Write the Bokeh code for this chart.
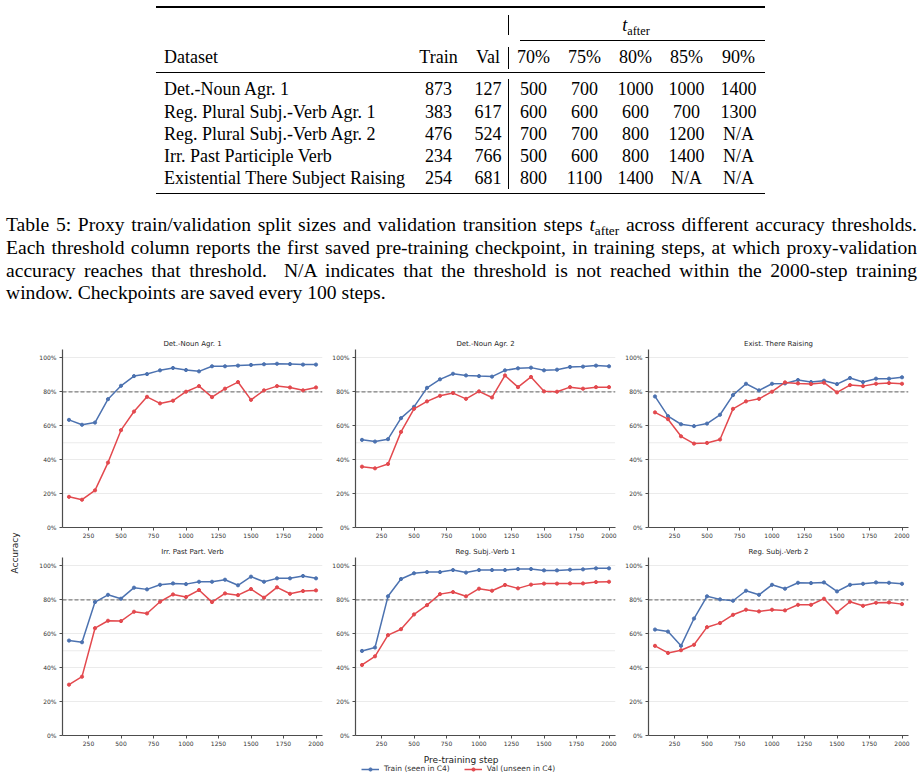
from bokeh.plotting import figure
from bokeh.layouts import column, row
from bokeh.models import (Div, Span, FixedTicker, Range1d, Legend, LegendItem,
                          Label, PrintfTickFormatter)
from bokeh.embed import file_html
from bokeh.resources import INLINE

# ---------------- table data ----------------
THRESHOLDS = ["70%", "75%", "80%", "85%", "90%"]
DATASETS = ["Det.-Noun Agr. 1", "Reg. Plural Subj.-Verb Agr. 1", "Reg. Plural Subj.-Verb Agr. 2",
            "Irr. Past Participle Verb", "Existential There Subject Raising"]
TRAIN_SIZES = [873, 383, 476, 234, 254]
VAL_SIZES = [127, 617, 524, 766, 681]
T_AFTER = [
    ["500", "700", "1000", "1000", "1400"],
    ["600", "600", "600", "700", "1300"],
    ["700", "700", "800", "1200", "N/A"],
    ["500", "600", "800", "1400", "N/A"],
    ["800", "1100", "1400", "N/A", "N/A"],
]
TAFTER_HTML = '<i>t</i><span style="font-size:0.68em;position:relative;top:0.3em;">after</span>'
CAPTION_LINES = [
    "Table 5: Proxy train/validation split sizes and validation transition steps " + TAFTER_HTML + " across different accuracy thresholds.",
    "Each threshold column reports the first saved pre-training checkpoint, in training steps, at which proxy-validation",
    "accuracy reaches that threshold.&nbsp; N/A indicates that the threshold is not reached within the 2000-step training",
    "window. Checkpoints are saved every 100 steps.",
]

# ---------------- chart data (accuracy, %) ----------------
STEPS = [100, 200, 300, 400, 500, 600, 700, 800, 900, 1000,
         1100, 1200, 1300, 1400, 1500, 1600, 1700, 1800, 1900, 2000]
PANEL_TITLES = ["Det.-Noun Agr. 1", "Det.-Noun Agr. 2", "Exist. There Raising",
                "Irr. Past Part. Verb", "Reg. Subj.-Verb 1", "Reg. Subj.-Verb 2"]

det_noun_1_train = [63.5, 60.6, 61.9, 75.7, 83.6, 89.3, 90.5, 92.7, 94.1, 92.9,
                    92.1, 95.1, 95.1, 95.5, 95.9, 96.3, 96.6, 96.4, 96.1, 96.1]
det_noun_1_val = [18.1, 16.4, 21.9, 38.3, 57.4, 68.4, 77.1, 73.2, 74.8, 80.1,
                  83.4, 76.9, 81.9, 85.8, 75.3, 80.9, 83.4, 82.6, 80.9, 82.6]
det_noun_2_train = [51.7, 50.7, 52.1, 64.5, 71.2, 82.4, 87.4, 90.7, 89.7, 89.3,
                    89.0, 92.7, 93.9, 94.3, 92.7, 93.1, 94.7, 94.9, 95.5, 95.1]
det_noun_2_val = [35.9, 34.9, 37.5, 56.4, 70.0, 74.4, 77.7, 79.3, 75.9, 80.3,
                  76.7, 89.7, 82.8, 88.8, 80.3, 80.1, 82.8, 81.9, 82.8, 82.8]
exist_there_train = [77.3, 65.7, 60.9, 59.8, 61.3, 66.5, 78.1, 84.8, 80.9, 84.8,
                     85.0, 87.0, 85.8, 86.6, 84.6, 88.2, 85.8, 87.8, 87.8, 88.6]
exist_there_val = [67.9, 63.9, 53.8, 49.5, 49.9, 51.9, 70.0, 74.4, 75.9, 80.1,
                   85.6, 85.0, 84.6, 85.4, 79.7, 84.0, 83.4, 84.8, 85.2, 84.8]
irr_past_train = [56.0, 55.0, 78.7, 83.0, 80.7, 87.2, 86.2, 88.9, 89.7, 89.3,
                  90.7, 90.7, 91.9, 88.6, 93.7, 90.7, 92.7, 92.7, 94.1, 92.7]
irr_past_val = [30.0, 34.7, 63.3, 67.7, 67.5, 73.0, 72.0, 78.9, 83.2, 81.7,
                85.8, 78.7, 83.8, 82.8, 86.4, 81.3, 87.4, 83.6, 85.2, 85.6]
reg_sv_1_train = [49.9, 51.9, 82.1, 92.3, 95.7, 96.4, 96.4, 97.6, 96.1, 97.6,
                  97.6, 97.6, 98.2, 98.2, 97.4, 97.4, 97.8, 98.0, 98.6, 98.6]
reg_sv_1_val = [41.6, 46.7, 59.2, 62.7, 71.4, 76.9, 83.4, 84.6, 82.1, 86.6,
                85.4, 88.8, 86.8, 89.0, 89.6, 89.6, 89.7, 89.7, 90.5, 90.7]
reg_sv_2_train = [62.5, 61.3, 52.9, 69.0, 82.1, 80.3, 79.5, 85.4, 83.0, 88.9,
                  86.6, 90.1, 89.9, 90.3, 85.0, 88.9, 89.5, 90.3, 90.1, 89.5]
reg_sv_2_val = [52.9, 48.7, 50.3, 53.5, 63.9, 66.3, 71.2, 74.2, 73.2, 74.2,
                73.8, 77.1, 77.1, 80.7, 72.6, 78.9, 76.5, 78.3, 78.5, 77.5]

TRAIN_SERIES = [det_noun_1_train, det_noun_2_train, exist_there_train,
                irr_past_train, reg_sv_1_train, reg_sv_2_train]
VAL_SERIES = [det_noun_1_val, det_noun_2_val, exist_there_val,
              irr_past_val, reg_sv_1_val, reg_sv_2_val]
X_TICKS = [250, 500, 750, 1000, 1250, 1500, 1750, 2000]
Y_TICKS = [0, 20, 40, 60, 80, 100]
THRESHOLD_LINE = 80
CHANCE_LINE = 50
TRAIN_LABEL = "Train (seen in C4)"
VAL_LABEL = "Val (unseen in C4)"

BLUE = "#4C72B0"
RED = "#E3494E"
SANS = "DejaVu Sans"
SERIF = "'Liberation Serif', 'Times New Roman', serif"

# ---------------- table (HTML) ----------------
def txt(html, cy, size, cx=None, left=None, lh=24):
    top = cy - lh / 2
    if cx is not None:
        pos = f"left:{cx - 80}px;width:160px;text-align:center;"
    else:
        pos = f"left:{left}px;text-align:left;"
    return (f'<div style="position:absolute;{pos}top:{top}px;height:{lh}px;'
            f'line-height:{lh}px;font-size:{size}px;white-space:nowrap;">{html}</div>')

def hrule(y, x0, x1, th):
    return (f'<div style="position:absolute;left:{x0}px;top:{y - th / 2}px;'
            f'width:{x1 - x0}px;height:{th}px;background:#000;"></div>')

def vrule(x, y0, y1, th=0.9):
    return (f'<div style="position:absolute;left:{x - th / 2}px;top:{y0}px;'
            f'width:{th}px;height:{y1 - y0}px;background:#000;"></div>')

TS = 18
TL, TR = 156, 765
X_DATASET = 164
X_TRAIN, X_VAL = 438.5, 488
X_BAR = 508.5
X_THR = [533.5, 584.5, 635.5, 686.5, 738.5]
ROW0, ROW_STEP = 89.3, 22.2

parts = []
parts.append(hrule(7, TL, TR, 1.6))
parts.append(txt(TAFTER_HTML, 25, TS, cx=636))
parts.append(hrule(40.5, 520, TR, 0.8))
parts.append(txt("Dataset", 57, TS, left=X_DATASET))
parts.append(txt("Train", 57, TS, cx=X_TRAIN))
parts.append(txt("Val", 57, TS, cx=X_VAL))
for cx, th in zip(X_THR, THRESHOLDS):
    parts.append(txt(th, 57, TS, cx=cx))
parts.append(hrule(72.5, TL, TR, 1.0))
for i, name in enumerate(DATASETS):
    cy = ROW0 + ROW_STEP * i
    parts.append(txt(name, cy, TS, left=X_DATASET))
    parts.append(txt(str(TRAIN_SIZES[i]), cy, TS, cx=X_TRAIN))
    parts.append(txt(str(VAL_SIZES[i]), cy, TS, cx=X_VAL))
    for cx, v in zip(X_THR, T_AFTER[i]):
        parts.append(txt(v, cy, TS, cx=cx))
parts.append(hrule(193.5, TL, TR, 1.6))
parts.append(vrule(X_BAR, 15, 35))
parts.append(vrule(X_BAR, 46.5, 68.5))
parts.append(vrule(X_BAR, 79, 188.5))

table_html = (f'<div style="position:relative;width:923px;height:200px;font-family:{SERIF};'
              f'color:#000;">' + "".join(parts) + "</div>")
table_div = Div(text=table_html, width=923, height=200, margin=0)

# ---------------- caption ----------------
CAP_SIZE = 19.6
CAP_LH = 22.7
CAP_TOP = 225.5 - 200
cap_parts = []
for i, line in enumerate(CAPTION_LINES):
    last = i == len(CAPTION_LINES) - 1
    align = "text-align:left;" if last else "text-align:justify;text-align-last:justify;"
    top = CAP_TOP + CAP_LH * i - CAP_LH / 2
    cap_parts.append(f'<div style="position:absolute;left:6px;width:911px;top:{top}px;'
                     f'height:{CAP_LH}px;line-height:{CAP_LH}px;{align}">{line}</div>')
caption_html = (f'<div style="position:relative;width:923px;height:120px;font-family:{SERIF};'
                f'font-size:{CAP_SIZE}px;color:#000;">' + "".join(cap_parts) + "</div>")
caption_div = Div(text=caption_html, width=923, height=120, margin=0)

# ---------------- panels ----------------
def make_panel(title, train, val, top_border):
    p = figure(frame_width=260, frame_height=178,
               x_range=Range1d(50, 2050), y_range=Range1d(0, 105),
               output_backend="svg", toolbar_location=None,
               min_border_left=30, min_border_right=3,
               min_border_top=top_border, min_border_bottom=14,
               title=title)
    p.outline_line_color = None
    p.background_fill_color = "white"
    p.border_fill_color = "white"
    p.title.align = "center"
    p.title.text_font = SANS
    p.title.text_font_size = "7px"
    p.title.text_font_style = "normal"
    p.title.text_color = "#262626"
    p.title.standoff = 3
    p.xgrid.grid_line_color = None
    p.ygrid.ticker = FixedTicker(ticks=Y_TICKS)
    p.ygrid.grid_line_color = "#e6e6e6"
    p.ygrid.grid_line_width = 0.8
    for ax in (p.xaxis[0], p.yaxis[0]):
        ax.axis_line_color = "#4d4d4d"
        ax.axis_line_width = 1.2
        ax.major_tick_line_color = "#4d4d4d"
        ax.major_tick_in = 0
        ax.major_tick_out = 3
        ax.minor_tick_line_color = None
        ax.major_label_text_font = SANS
        ax.major_label_text_font_size = "6px"
        ax.major_label_text_color = "#333333"
    p.xaxis.ticker = FixedTicker(ticks=X_TICKS)
    p.xaxis.major_label_standoff = 2
    p.yaxis.ticker = FixedTicker(ticks=Y_TICKS)
    p.yaxis.formatter = PrintfTickFormatter(format="%d%%")
    p.yaxis.major_label_standoff = 3
    p.add_layout(Span(location=CHANCE_LINE, dimension="width", line_color="#c8c8c8",
                      line_width=0.7, line_dash="1 1", level="underlay"))
    p.add_layout(Span(location=THRESHOLD_LINE, dimension="width", line_color="#808080",
                      line_width=1.2, line_dash="4 2", level="underlay"))
    p.line(STEPS, train, color=BLUE, line_width=1.5)
    p.scatter(STEPS, train, color=BLUE, size=3.2)
    p.line(STEPS, val, color=RED, line_width=1.5)
    p.scatter(STEPS, val, color=RED, size=3.2)
    return p

panels = []
for i in range(6):
    tb = 29 if i < 3 else 16
    panels.append(make_panel(PANEL_TITLES[i], TRAIN_SERIES[i], VAL_SERIES[i], tb))

grid = column(row(*panels[:3], spacing=0), row(*panels[3:], spacing=0), spacing=0)

acc_html = (f'<div style="position:relative;width:32px;height:429px;">'
            f'<div style="position:absolute;left:15px;top:233px;transform:translate(-50%,-50%) rotate(-90deg);'
            f'font-family:{SANS};font-size:9px;color:#222;white-space:nowrap;">Accuracy</div></div>')
acc_div = Div(text=acc_html, width=32, height=429, margin=0)

# ---------------- bottom: x label + legend ----------------
# The bottom strip only hosts the shared x label and legend; its y-range sits
# below the accuracy values, so the legend's source renderers stay out of view.
bot = figure(width=911, height=30, x_range=Range1d(0, 911), y_range=Range1d(0, 30),
             output_backend="svg", toolbar_location=None, x_axis_type=None, y_axis_type=None,
             min_border=0)
bot.outline_line_color = None
bot.xgrid.visible = False
bot.ygrid.visible = False
bot.add_layout(Label(x=460.7, y=20, text="Pre-training step", text_align="center",
                     text_baseline="middle", text_font=SANS, text_font_size="9px",
                     text_color="#222222"))
l1 = bot.line(STEPS, reg_sv_1_train, color=BLUE, line_width=1.5)
s1 = bot.scatter(STEPS, reg_sv_1_train, color=BLUE, size=3.2)
l2 = bot.line(STEPS, reg_sv_1_val, color=RED, line_width=1.5)
s2 = bot.scatter(STEPS, reg_sv_1_val, color=RED, size=3.2)
leg = Legend(items=[LegendItem(label=TRAIN_LABEL, renderers=[l1, s1]),
                    LegendItem(label=VAL_LABEL, renderers=[l2, s2])],
             orientation="horizontal", location=(361, 6), margin=0, padding=0,
             spacing=14, label_standoff=5, glyph_width=18, glyph_height=8, label_height=8,
             label_text_font=SANS, label_text_font_size="7.5px", label_text_color="#333333",
             border_line_color=None, background_fill_alpha=0)
bot.add_layout(leg)

layout = column(table_div, caption_div, row(acc_div, grid, spacing=0), bot, spacing=0)

open("out.html", "w").write(file_html(layout, INLINE))
